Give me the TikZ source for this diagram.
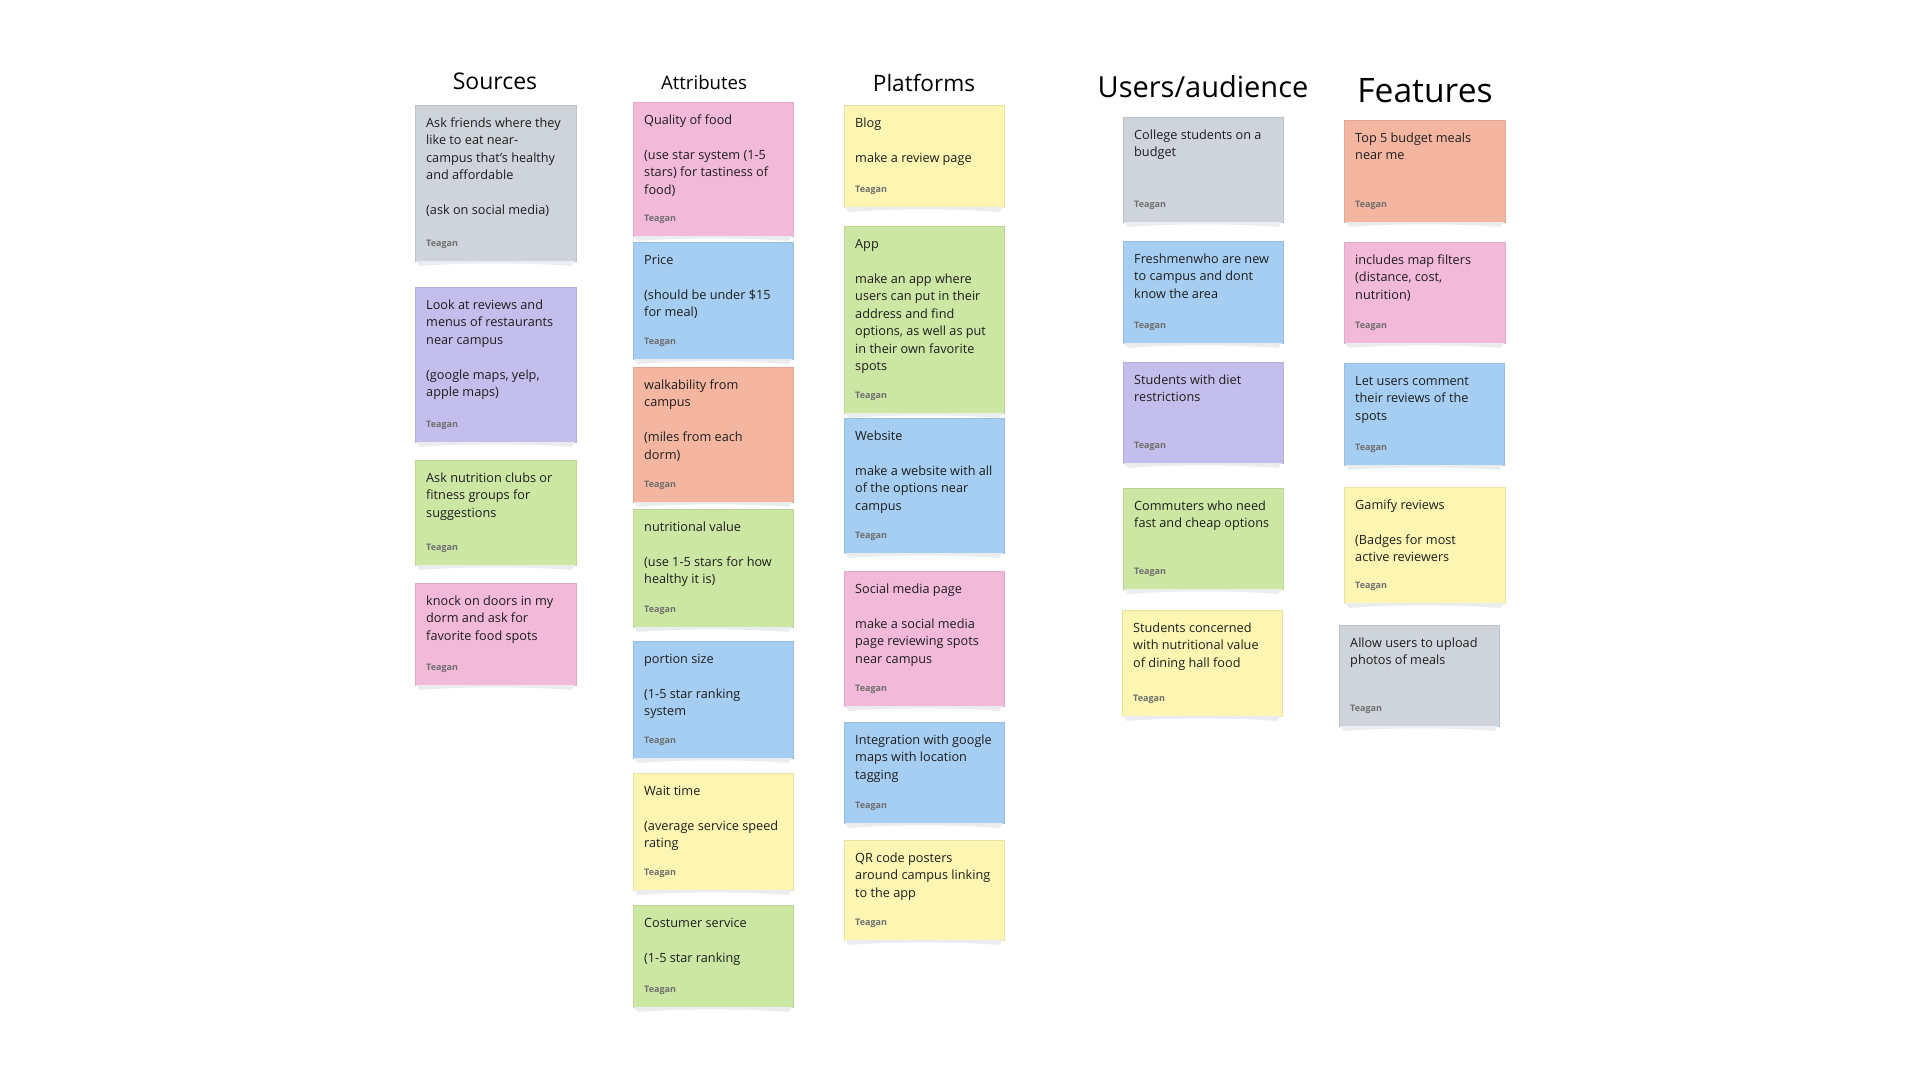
\documentclass[tikz,border=0pt]{standalone}
\usepackage{fontspec}
\setmainfont{Open Sans}
\usetikzlibrary{calc}

% sticky-note palette
\definecolor{notegray}{HTML}{CFD4DB}
\definecolor{notepurple}{HTML}{C4BEEC}
\definecolor{notegreen}{HTML}{CCE7A3}
\definecolor{notepink}{HTML}{F2B9D8}
\definecolor{noteblue}{HTML}{A5CEF2}
\definecolor{notesalmon}{HTML}{F4B6A1}
\definecolor{noteyellow}{HTML}{FCF6B2}
\definecolor{inkdark}{HTML}{1E1E1E}
\definecolor{authorgray}{HTML}{6E6E6E}
\definecolor{curlshadow}{HTML}{EBECEF}

\tikzset{
  stickybox/.style={rectangle, inner sep=0pt, outer sep=0pt, anchor=north west,
    fill=#1, draw=#1!92!black, line width=0.4pt},
  notetext/.style={anchor=base west, inner sep=0pt, text=inkdark,
    font=\fontsize{12.7}{17.5}\selectfont},
  authortag/.style={anchor=base west, inner sep=0pt, text=authorgray,
    font=\bfseries\fontsize{9}{10}\selectfont},
  heading/.style={anchor=base, inner sep=0pt, text=black},
}

\newcommand\blankline{\\[17.5pt]}

% #1 name, #2 colour, #3 left, #4 top, #5 width, #6 height, #7 body text
\newcommand\stickynote[7]{%
  \node[stickybox=#2, minimum width=#5pt, minimum height=#6pt] (#1) at (#3,#4) {};
  \fill[curlshadow] ([xshift=1pt]#1.south west)
    -- ([xshift=5pt,yshift=-5pt]#1.south west)
    .. controls ([xshift=-35pt,yshift=-1.5pt]#1.south) and ([xshift=35pt,yshift=-1.5pt]#1.south)
    .. ([xshift=-5pt,yshift=-5pt]#1.south east)
    -- ([xshift=-1pt]#1.south east) -- cycle;
  \node[notetext] (#1-body) at ([xshift=11pt,yshift=-22pt]#1.north west)
    {\parbox[t]{200pt}{\raggedright #7}};
  \node[authortag] (#1-author) at ([xshift=11pt,yshift=14.5pt]#1.south west) {Teagan};
}

\begin{document}
\begin{tikzpicture}[x=1pt, y=-1pt]
  \fill[white] (0,0) rectangle (1920,1080);
  \useasboundingbox (0,0) rectangle (1920,1080);

  % column headings
  \node[heading, font=\fontsize{23}{26}\selectfont] (hsources) at (495,89) {Sources};
  \node[heading, font=\fontsize{18.6}{22}\selectfont] (hattributes) at (704,89) {Attributes};
  \node[heading, font=\fontsize{22.6}{26}\selectfont] (hplatforms) at (924,91) {Platforms};
  \node[heading, font=\fontsize{29}{32}\selectfont] (husers) at (1203,97) {Users/audience};
  \node[heading, font=\fontsize{33.6}{36}\selectfont] (hfeatures) at (1425,102) {Features};

  % Sources
  \stickynote{s1}{notegray}{415}{105}{161}{156}{Ask friends where they\\like to eat near-\\campus that's healthy\\and affordable\blankline(ask on social media)}
  \stickynote{s2}{notepurple}{415}{287}{161}{155}{Look at reviews and\\menus of restaurants\\near campus\blankline(google maps, yelp,\\apple maps)}
  \stickynote{s3}{notegreen}{415}{460}{161}{105}{Ask nutrition clubs or\\fitness groups for\\suggestions}
  \stickynote{s4}{notepink}{415}{583}{161}{102}{knock on doors in my\\dorm and ask for\\favorite food spots}

  % Attributes
  \stickynote{a1}{notepink}{633}{102}{160}{134}{Quality of food\blankline(use star system (1-5\\stars) for tastiness of\\food)}
  \stickynote{a2}{noteblue}{633}{242}{160}{117}{Price\blankline(should be under \$15\\for meal)}
  \stickynote{a3}{notesalmon}{633}{367}{160}{135}{walkability from\\campus\blankline(miles from each\\dorm)}
  \stickynote{a4}{notegreen}{633}{509}{160}{118}{nutritional value\blankline(use 1-5 stars for how\\healthy it is)}
  \stickynote{a5}{noteblue}{633}{641}{160}{117}{portion size\blankline(1-5 star ranking\\system}
  \stickynote{a6}{noteyellow}{633}{773}{160}{117}{Wait time\blankline(average service speed\\rating}
  \stickynote{a7}{notegreen}{633}{905}{160}{102}{Costumer service\blankline(1-5 star ranking}

  % Platforms
  \stickynote{p1}{noteyellow}{844}{105}{160}{102}{Blog\blankline make a review page}
  \stickynote{p2}{notegreen}{844}{226}{160}{187}{App\blankline make an app where\\users can put in their\\address and find\\options, as well as put\\in their own favorite\\spots}
  \stickynote{p3}{noteblue}{844}{418}{160}{135}{Website\blankline make a website with all\\of the options near\\campus}
  \stickynote{p4}{notepink}{844}{571}{160}{135}{Social media page\blankline make a social media\\page reviewing spots\\near campus}
  \stickynote{p5}{noteblue}{844}{722}{160}{101}{Integration with google\\maps with location\\tagging}
  \stickynote{p6}{noteyellow}{844}{840}{160}{100}{QR code posters\\around campus linking\\to the app}

  % Users / audience
  \stickynote{u1}{notegray}{1123}{117}{160}{105}{College students on a\\budget}
  \stickynote{u2}{noteblue}{1123}{241}{160}{102}{Freshmenwho are new\\to campus and dont\\know the area}
  \stickynote{u3}{notepurple}{1123}{362}{160}{101}{Students with diet\\restrictions}
  \stickynote{u4}{notegreen}{1123}{488}{160}{101}{Commuters who need\\fast and cheap options}
  \stickynote{u5}{noteyellow}{1122}{610}{160}{106}{Students concerned\\with nutritional value\\of dining hall food}

  % Features
  \stickynote{f1}{notesalmon}{1344}{120}{161}{102}{Top 5 budget meals\\near me}
  \stickynote{f2}{notepink}{1344}{242}{161}{101}{includes map filters\\(distance, cost,\\nutrition)}
  \stickynote{f3}{noteblue}{1344}{363}{160}{102}{Let users comment\\their reviews of the\\spots}
  \stickynote{f4}{noteyellow}{1344}{487}{161}{116}{Gamify reviews\blankline(Badges for most\\active reviewers}
  \stickynote{f5}{notegray}{1339}{625}{160}{101}{Allow users to upload\\photos of meals}
\end{tikzpicture}
\end{document}
